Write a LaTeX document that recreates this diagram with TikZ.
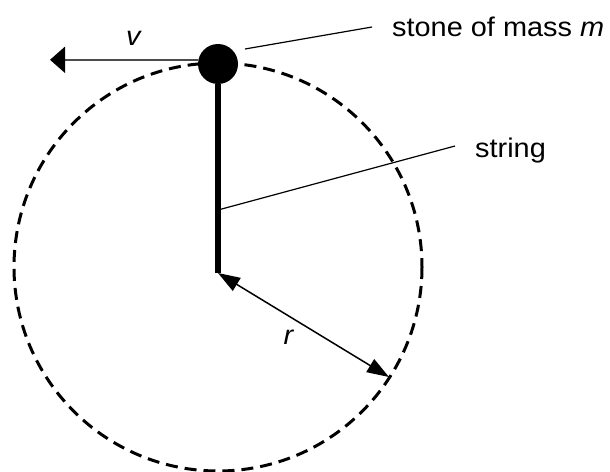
\documentclass[tikz,border=0pt]{standalone}
\usepackage{fontspec}
\setmainfont{Liberation Sans}[FakeStretch=1.07]
\usetikzlibrary{arrows.meta}

\tikzset{
    popisek/.style={font=\fontsize{27}{32}\selectfont, inner sep=0pt},
    hrot/.tip={Triangle[length=22pt,width=15pt]}
}

\begin{document}
\begin{tikzpicture}[x=1pt,y=-1pt]
        \useasboundingbox (0,0) rectangle (610,471);

        % střed kružnice a konec provázku
        \coordinate (S) at (218,267);
        \coordinate (Sp) at (218,273);

        % dráha kamene
        \draw[line width=3pt, dash pattern=on 12pt off 7pt] (S) circle (204);

        % provázek a kámen
        \node[circle, fill, minimum size=40pt, inner sep=0pt] (kamen) at (218,64) {};
        \draw[line width=6pt] (kamen.south) -- (Sp);

        % rychlost
        \coordinate (V) at (50,60);
        \draw[black!70, line width=2pt, -{Triangle[length=15pt,width=26pt,color=black]}] (kamen.168) -- (V |- kamen.168);
        \node[popisek] (v) at (134,38) {\textit{v}};

        % poloměr
        \coordinate (R) at (389,377);
        \draw[line width=1.5pt, hrot-hrot] (Sp) -- (R);
        \node[popisek] (r) at (289,337) {\textit{r}};

        % popisky
        \node[popisek, anchor=base west] (txtkamen) at (392,36) {stone of mass \textit{m}};
        \node[popisek, anchor=base west] (txtprovaz) at (475,157) {string};
        \coordinate (K) at (245,49);
        \coordinate (P) at (218,210);
        \draw[line width=1.2pt] (K) -- ([shift={(-20,-9)}]txtkamen.base west);
        \draw[line width=1.2pt] (P) -- ([shift={(-20,-11)}]txtprovaz.base west);

\end{tikzpicture}
\end{document}
